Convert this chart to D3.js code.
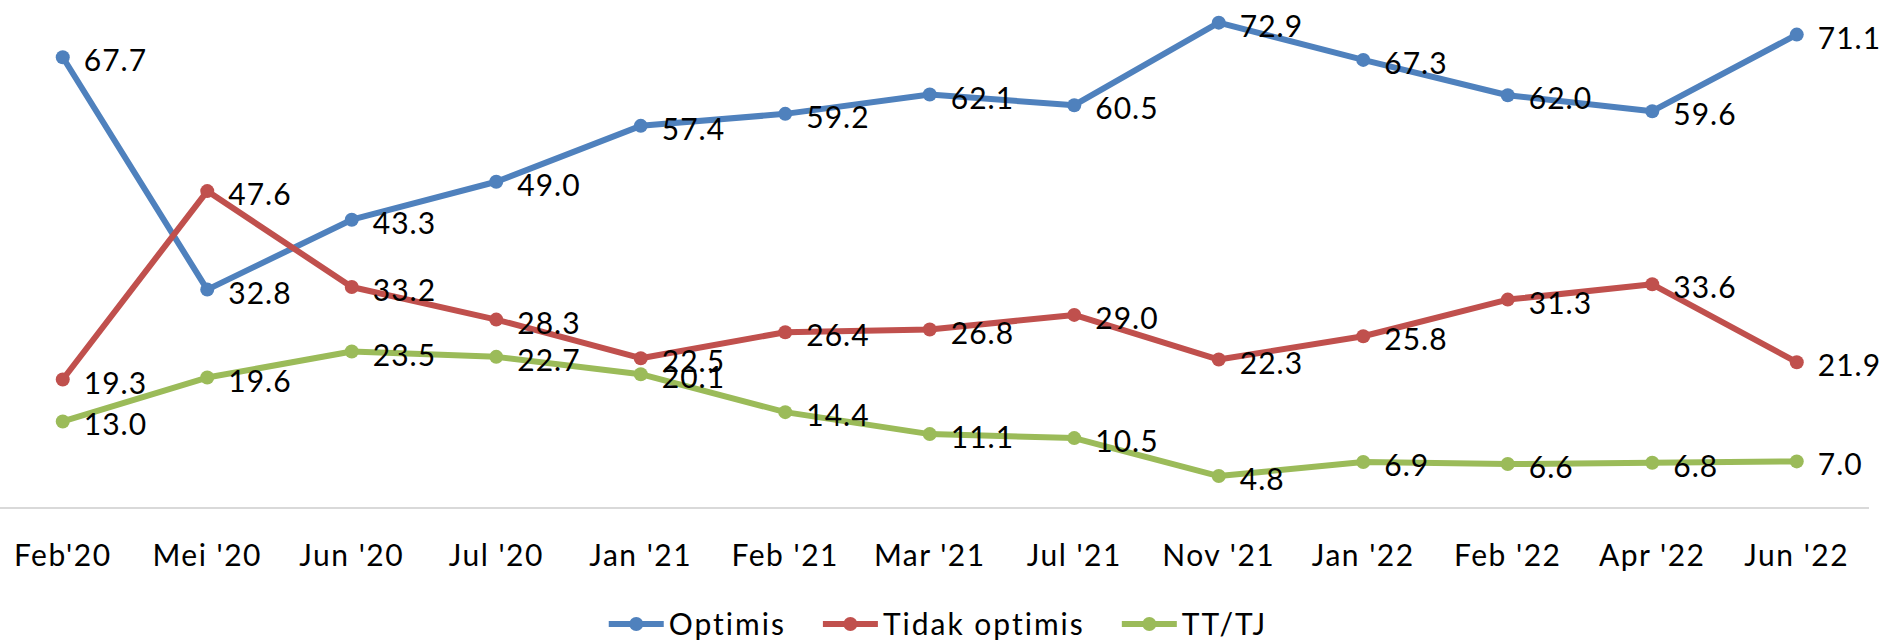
<!DOCTYPE html>
<html>
<head>
<meta charset="utf-8">
<script src="https://cdn.jsdelivr.net/npm/d3@7.9.0/dist/d3.min.js"></script>
<style>
  html, body { margin: 0; padding: 0; background: #fff; }
  svg { display: block; font-family: Lato, 'Open Sans', sans-serif; }
</style>
</head>
<body>
<svg id="chart" width="1902" height="643"></svg>
<script>
const categories = ["Feb'20", "Mei '20", "Jun '20", "Jul '20", "Jan '21", "Feb '21", "Mar '21",
  "Jul '21", "Nov '21", "Jan '22", "Feb '22", "Apr '22", "Jun '22"];

const optimis = [67.7, 32.8, 43.3, 49.0, 57.4, 59.2, 62.1, 60.5, 72.9, 67.3, 62.0, 59.6, 71.1];
const tidakOptimis = [19.3, 47.6, 33.2, 28.3, 22.5, 26.4, 26.8, 29.0, 22.3, 25.8, 31.3, 33.6, 21.9];
const ttTj = [13.0, 19.6, 23.5, 22.7, 20.1, 14.4, 11.1, 10.5, 4.8, 6.9, 6.6, 6.8, 7.0];

const seriesNames = ["Optimis", "Tidak optimis", "TT/TJ"];
const seriesColors = ["#4F81BD", "#C0504D", "#9BBB59"];

const series = [optimis, tidakOptimis, ttTj].map((values, i) => ({
  name: seriesNames[i],
  color: seriesColors[i],
  values: values
}));

const svg = d3.select('#chart');
const fontSize = 30;

// scales
const x = d3.scalePoint().domain(categories).range([-9.5, 1869]).padding(0.5);
const y = d3.scaleLinear().domain([0, 76]).range([508, 2]);

// category axis line
svg.append('line')
  .attr('x1', x.range()[0]).attr('x2', x.range()[1])
  .attr('y1', y(0)).attr('y2', y(0))
  .attr('stroke', '#D9D9D9')
  .attr('stroke-width', 2);

// category labels
svg.append('g')
  .selectAll('text')
  .data(categories)
  .join('text')
  .attr('x', (d) => x(d))
  .attr('y', 566)
  .attr('text-anchor', 'middle')
  .attr('font-size', fontSize)
  .attr('letter-spacing', 1.5)
  .attr('fill', '#000')
  .text((d) => d);

const line = d3.line()
  .x((d, i) => x(categories[i]))
  .y((d) => y(d));

// lines + markers
series.forEach((s) => {
  const g = svg.append('g');
  g.append('path')
    .attr('d', line(s.values))
    .attr('fill', 'none')
    .attr('stroke', s.color)
    .attr('stroke-width', 6)
    .attr('stroke-linejoin', 'round');

  g.selectAll('circle')
    .data(s.values)
    .join('circle')
    .attr('cx', (d, i) => x(categories[i]))
    .attr('cy', (d) => y(d))
    .attr('r', 7)
    .attr('fill', s.color);
});

// data labels on top
series.forEach((s) => {
  svg.append('g')
    .selectAll('text')
    .data(s.values)
    .join('text')
    .attr('x', (d, i) => x(categories[i]) + 21)
    .attr('y', (d) => y(d) + 2)
    .attr('dominant-baseline', 'central')
    .attr('font-size', fontSize)
    .attr('letter-spacing', 1)
    .attr('fill', '#000')
    .text((d) => d.toFixed(1));
});

// legend
const legend = svg.append('g');
const lineLen = 55, textGap = 5, itemGap = 37;
let cursor = 0;
series.forEach((s) => {
  const item = legend.append('g');
  item.append('line')
    .attr('x1', 0).attr('x2', lineLen)
    .attr('y1', 0).attr('y2', 0)
    .attr('stroke', s.color)
    .attr('stroke-width', 6);
  item.append('circle')
    .attr('cx', lineLen / 2).attr('cy', 0)
    .attr('r', 7)
    .attr('fill', s.color);
  const t = item.append('text')
    .attr('x', lineLen + textGap)
    .attr('y', 11)
    .attr('font-size', fontSize)
    .attr('letter-spacing', 2)
    .attr('fill', '#000')
    .text(s.name);
  const w = lineLen + textGap + t.node().getComputedTextLength();
  item.attr('transform', `translate(${cursor},0)`);
  cursor += w + itemGap;
});
const legendWidth = cursor - itemGap;
legend.attr('transform', `translate(${938 - legendWidth / 2},624)`);
</script>
</body>
</html>
